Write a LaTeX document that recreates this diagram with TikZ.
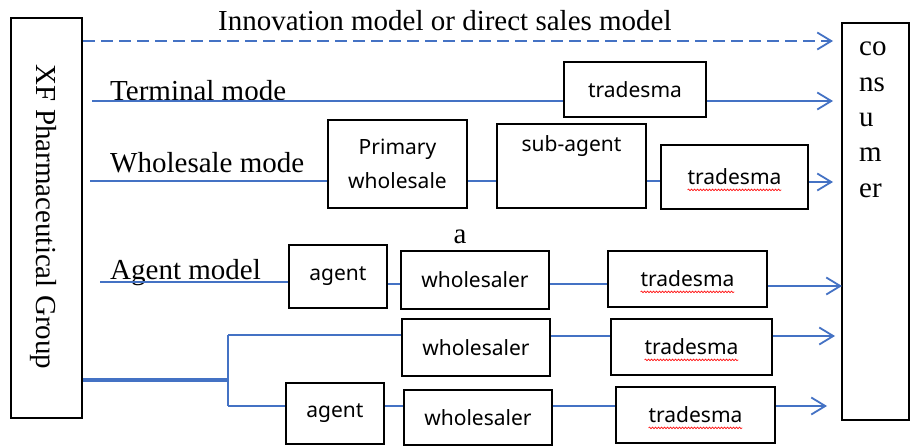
\documentclass[tikz,border=0pt]{standalone}
\usepackage{fontspec}
\setmainfont{Liberation Serif}
\newfontfamily\boxfont{Noto Sans}
\usetikzlibrary{arrows.meta}
\usetikzlibrary{decorations.pathmorphing}
\definecolor{flowblue}{RGB}{68,114,196}
\newlength{\tradew}
\newcommand{\flowbox}[6]{\node[box, minimum width={(#4-#2)*1pt}, minimum height={(#5-#3)*1pt}] (#1) at ({(#2+#4)/2},{(#3+#5)/2}) {#6};}
\newcommand{\spellwave}[1]{\draw[wave] ([xshift=-0.5\tradew, yshift=-5pt]#1.base) -- ([xshift=0.5\tradew, yshift=-5pt]#1.base);}
\tikzset{
  box/.style={draw, line width=2pt, inner sep=0pt, align=center, font=\boxfont\fontsize{21}{34}\selectfont},
  flow/.style={draw=flowblue, line width=1.8pt},
  tip/.style={-{Straight Barb[length=14pt, width=17pt]}},
  lbl/.style={font=\fontsize{29}{35}\selectfont, inner sep=0pt, anchor=base west},
  wave/.style={red, line width=0.6pt, decorate, decoration={snake, amplitude=0.9pt, segment length=3pt}}
}

\begin{document}
\settowidth{\tradew}{\boxfont\fontsize{21}{26}\selectfont tradesma}
\begin{tikzpicture}[x=1pt, y=-1pt]
  \useasboundingbox (0,0) rectangle (913,447);
  % group and consumer
  \flowbox{grp}{11}{18}{82}{418}{}
  \node[font=\fontsize{29}{35}\selectfont, rotate=-90, inner sep=0pt] (grp-txt) at (43,217) {XF Pharmaceutical Group};
  \flowbox{cons}{842}{23}{909}{420}{}
  \node[font=\fontsize{29}{35.3}\selectfont, align=left, anchor=north west, inner sep=0pt] (cons-txt) at (859,42) {co\\ns\\u\\m\\er};

  % boxes
  \flowbox{ts1}{564}{62}{706}{117}{tradesma}
  \flowbox{pw}{328}{120}{467}{208}{Primary\\wholesale}
  \flowbox{sa}{497}{124}{646}{208}{sub-agent\\\strut}
  \flowbox{ts3}{661}{145}{808}{209}{tradesma}
  \flowbox{ag1}{289}{245}{387}{308}{agent}
  \flowbox{wh1}{401}{251}{549}{309}{wholesaler}
  \flowbox{ts4}{608}{251}{767}{307}{tradesma}
  \flowbox{wh2}{402}{319}{550}{376}{wholesaler}
  \flowbox{ts5}{611}{319}{772}{375}{tradesma}
  \flowbox{ag2}{286}{383}{384}{444}{agent}
  \flowbox{wh3}{404}{390}{552}{445}{wholesaler}
  \flowbox{ts6}{616}{387}{775}{443}{tradesma}
  \spellwave{ts3} \spellwave{ts4} \spellwave{ts5} \spellwave{ts6}

  % labels
  \node[lbl] (innov) at (218,30) {Innovation model or direct sales model};
  \node[lbl] (term) at (110,100) {Terminal mode};
  \node[lbl] (whole) at (110,172) {Wholesale mode};
  \node[lbl] (agent) at (110,279) {Agent model};
  \node[lbl, anchor=base] (a-mark) at (460,243) {a};

  % line ends
  \coordinate (dtip) at (833,41);
  \coordinate (t0) at (92,101);  \coordinate (t1) at (833,101);
  \coordinate (w0) at (90,181);  \coordinate (w1) at (833,182);
  \coordinate (a0) at (100,282); \coordinate (ar) at (0,284); \coordinate (a1) at (842,286);
  \coordinate (br) at (228,380); \coordinate (bu) at (228,335); \coordinate (bd) at (228,406);
  \coordinate (b1) at (835,336); \coordinate (b2) at (827,406);

  % innovation / terminal
  \draw[flow, dash pattern=on 12pt off 6pt, tip] (grp.east |- dtip) -- (dtip);
  \draw[flow] (t0) -- (ts1.west |- t0);
  \draw[flow, tip] (ts1.east |- t0) -- (t1);
  % wholesale
  \draw[flow] (w0) -- (pw.west |- w0);
  \draw[flow] (pw.east |- w0) -- (sa.west |- w0);
  \draw[flow] (sa.east |- w0) -- (ts3.west |- w0);
  \draw[flow, tip] (ts3.east |- w1) -- (w1);
  % agent
  \draw[flow] (a0) -- (ag1.west |- a0);
  \draw[flow] (ag1.east |- ar) -- (wh1.west |- ar);
  \draw[flow] (wh1.east |- ar) -- (ts4.west |- ar);
  \draw[flow, tip] (ts4.east |- a1) -- (a1);
  % branch
  \draw[flow, line width=3.6pt] (grp.east |- br) -- (br);
  \draw[flow] (bu) -- (bd);
  \draw[flow] (bu) -- (wh2.west |- bu);
  \draw[flow] (wh2.east |- b1) -- (ts5.west |- b1);
  \draw[flow, tip] (ts5.east |- b1) -- (b1);
  \draw[flow] (bd) -- (ag2.west |- bd);
  \draw[flow] (ag2.east |- bd) -- (wh3.west |- bd);
  \draw[flow] (wh3.east |- bd) -- (ts6.west |- bd);
  \draw[flow, tip] (ts6.east |- b2) -- (b2);
\end{tikzpicture}
\end{document}
